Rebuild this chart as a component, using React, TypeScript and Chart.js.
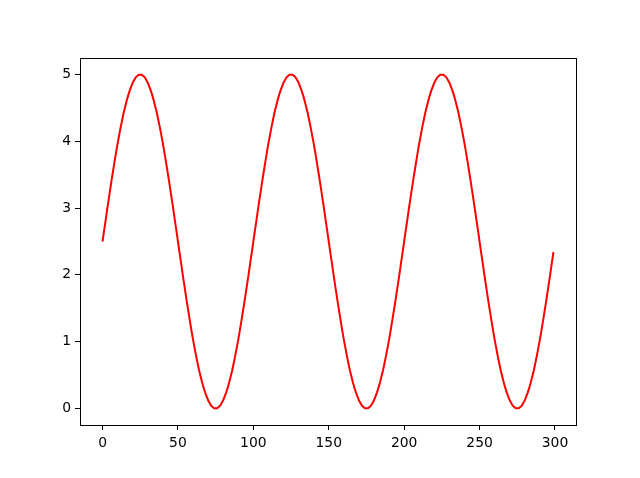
import React, { useEffect, useRef } from "react";
import { Chart, registerables } from "chart.js";

Chart.register(...registerables);

const yValues: number[] = [
  2.50, 2.66, 2.81, 2.97, 3.12, 3.27, 3.42, 3.56, 3.70, 3.84,
  3.97, 4.09, 4.21, 4.32, 4.43, 4.52, 4.61, 4.69, 4.76, 4.82,
  4.88, 4.92, 4.96, 4.98, 5.00, 5.00, 5.00, 4.98, 4.96, 4.92,
  4.88, 4.82, 4.76, 4.69, 4.61, 4.52, 4.43, 4.32, 4.21, 4.09,
  3.97, 3.84, 3.70, 3.56, 3.42, 3.27, 3.12, 2.97, 2.81, 2.66,
  2.50, 2.34, 2.19, 2.03, 1.88, 1.73, 1.58, 1.44, 1.30, 1.16,
  1.03, 0.91, 0.79, 0.68, 0.57, 0.48, 0.39, 0.31, 0.24, 0.18,
  0.12, 0.08, 0.04, 0.02, 0.00, 0.00, 0.00, 0.02, 0.04, 0.08,
  0.12, 0.18, 0.24, 0.31, 0.39, 0.48, 0.57, 0.68, 0.79, 0.91,
  1.03, 1.16, 1.30, 1.44, 1.58, 1.73, 1.88, 2.03, 2.19, 2.34,
  2.50, 2.66, 2.81, 2.97, 3.12, 3.27, 3.42, 3.56, 3.70, 3.84,
  3.97, 4.09, 4.21, 4.32, 4.43, 4.52, 4.61, 4.69, 4.76, 4.82,
  4.88, 4.92, 4.96, 4.98, 5.00, 5.00, 5.00, 4.98, 4.96, 4.92,
  4.88, 4.82, 4.76, 4.69, 4.61, 4.52, 4.43, 4.32, 4.21, 4.09,
  3.97, 3.84, 3.70, 3.56, 3.42, 3.27, 3.12, 2.97, 2.81, 2.66,
  2.50, 2.34, 2.19, 2.03, 1.88, 1.73, 1.58, 1.44, 1.30, 1.16,
  1.03, 0.91, 0.79, 0.68, 0.57, 0.48, 0.39, 0.31, 0.24, 0.18,
  0.12, 0.08, 0.04, 0.02, 0.00, 0.00, 0.00, 0.02, 0.04, 0.08,
  0.12, 0.18, 0.24, 0.31, 0.39, 0.48, 0.57, 0.68, 0.79, 0.91,
  1.03, 1.16, 1.30, 1.44, 1.58, 1.73, 1.88, 2.03, 2.19, 2.34,
  2.50, 2.66, 2.81, 2.97, 3.12, 3.27, 3.42, 3.56, 3.70, 3.84,
  3.97, 4.09, 4.21, 4.32, 4.43, 4.52, 4.61, 4.69, 4.76, 4.82,
  4.88, 4.92, 4.96, 4.98, 5.00, 5.00, 5.00, 4.98, 4.96, 4.92,
  4.88, 4.82, 4.76, 4.69, 4.61, 4.52, 4.43, 4.32, 4.21, 4.09,
  3.97, 3.84, 3.70, 3.56, 3.42, 3.27, 3.12, 2.97, 2.81, 2.66,
  2.50, 2.34, 2.19, 2.03, 1.88, 1.73, 1.58, 1.44, 1.30, 1.16,
  1.03, 0.91, 0.79, 0.68, 0.57, 0.48, 0.39, 0.31, 0.24, 0.18,
  0.12, 0.08, 0.04, 0.02, 0.00, 0.00, 0.00, 0.02, 0.04, 0.08,
  0.12, 0.18, 0.24, 0.31, 0.39, 0.48, 0.57, 0.68, 0.79, 0.91,
  1.03, 1.16, 1.30, 1.44, 1.58, 1.73, 1.88, 2.03, 2.19, 2.34,
];

const xTicks: number[] = [0, 50, 100, 150, 200, 250, 300];
const yTicks: number[] = [0, 1, 2, 3, 4, 5];

const frame = {
  id: "frame",
  afterDatasetsDraw(chart: any) {
    const { ctx, chartArea } = chart;
    ctx.save();
    ctx.strokeStyle = "#000";
    ctx.lineWidth = 1;
    ctx.strokeRect(
      Math.round(chartArea.left) + 0.5,
      Math.round(chartArea.top) + 0.5,
      Math.round(chartArea.right - chartArea.left),
      Math.round(chartArea.bottom - chartArea.top)
    );
    ctx.restore();
  },
};

export default function App() {
  const ref = useRef<HTMLCanvasElement | null>(null);
  useEffect(() => {
    if (!ref.current) return;
    const font = { family: "DejaVu Sans", size: 13.9 };
    const chart = new Chart(ref.current, {
      type: "line",
      data: {
        datasets: [
          {
            data: yValues.map((y, i) => ({ x: i, y })),
            borderColor: "#ff0000",
            borderWidth: 2,
            pointRadius: 0,
            fill: false,
            tension: 0,
          },
        ],
      },
      options: {
        animation: false,
        responsive: false,
        maintainAspectRatio: false,
        layout: { padding: { left: 0, top: 58, right: 64, bottom: 0 } },
        plugins: { legend: { display: false }, tooltip: { enabled: false } },
        scales: {
          x: {
            type: "linear",
            min: -14.95,
            max: 313.95,
            afterBuildTicks: (s: any) => {
              s.ticks = xTicks.map((v) => ({ value: v }));
            },
            afterFit: (s: any) => {
              s.height = 53;
            },
            ticks: { color: "#000", font, padding: 5, maxRotation: 0, autoSkip: false },
            grid: { drawOnChartArea: false, drawTicks: true, tickLength: 5, color: "#000" },
            border: { display: true, color: "#000", width: 1 },
          },
          y: {
            type: "linear",
            min: -0.25,
            max: 5.25,
            afterBuildTicks: (s: any) => {
              s.ticks = yTicks.map((v) => ({ value: v }));
            },
            afterFit: (s: any) => {
              s.width = 80;
            },
            ticks: { color: "#000", font, padding: 4, autoSkip: false },
            grid: { drawOnChartArea: false, drawTicks: true, tickLength: 5, color: "#000" },
            border: { display: true, color: "#000", width: 1 },
          },
        },
      },
      plugins: [frame],
    } as any);
    return () => chart.destroy();
  }, []);
  return (
    <div style={{ position: "absolute", left: 0, top: 0, width: 640, height: 478, background: "#fff" }}>
      <canvas ref={ref} width={640} height={478} style={{ width: 640, height: 478 }} />
    </div>
  );
}
